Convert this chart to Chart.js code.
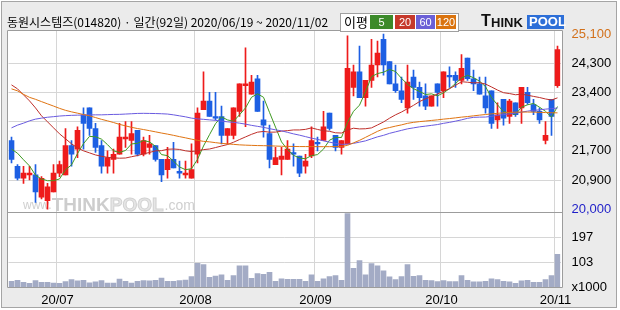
<!DOCTYPE html>
<html><head><meta charset="utf-8">
<script src="https://cdn.jsdelivr.net/npm/chart.js@4.4.0/dist/chart.umd.min.js"></script>
<style>html,body{margin:0;padding:0;background:#fff;}#wrap{width:620px;height:310px;position:relative}</style>
</head><body><div id="wrap"><canvas id="c" width="620" height="310"></canvas></div>
<script>
const dates = ['06/19','06/22','06/23','06/24','06/25','06/26','06/29','06/30',
'07/01','07/02','07/03','07/06','07/07','07/08','07/09','07/10','07/13','07/14','07/15','07/16','07/17','07/20','07/21','07/22','07/23','07/24','07/27','07/28','07/29','07/30','07/31',
'08/03','08/04','08/05','08/06','08/07','08/10','08/11','08/12','08/13','08/14','08/18','08/19','08/20','08/21','08/24','08/25','08/26','08/27','08/28','08/31',
'09/01','09/02','09/03','09/04','09/07','09/08','09/09','09/10','09/11','09/14','09/15','09/16','09/17','09/18','09/21','09/22','09/23','09/24','09/25','09/28','09/29',
'10/05','10/06','10/07','10/08','10/12','10/13','10/14','10/15','10/16','10/19','10/20','10/21','10/22','10/23','10/26','10/27','10/28','10/29','10/30',
'11/02'];
const opens = [22000,21250,20900,21000,21000,20350,20250,20500,21050,21000,21850,21750,22750,22950,22350,21850,21250,21450,21600,22050,
22000,22300,21600,21800,21850,21450,21150,21450,21100,21000,20900,21600,22900,23150,22700,22700,22150,22150,22850,23600,
23350,23800,22600,22200,21300,21450,21450,21650,21550,21250,21550,21950,22000,22800,22150,21800,21900,23550,24000,23250,
23750,24200,24950,24300,23650,23450,22950,23850,23550,23300,23000,23650,23450,23900,23900,23750,24400,23800,23650,23300,
23450,22600,23200,22700,23100,22950,23400,23050,22850,22000,23200,23600];
const highs = [22100,21300,21250,21250,21300,20950,20750,21300,21400,22350,22000,22400,22950,22950,22500,22000,21700,21750,22500,22550,
22550,22300,22100,22150,21850,21450,21800,21950,21400,21400,21900,22950,24000,23400,23400,23000,22350,22950,23650,24700,
23900,23900,23150,22450,21800,21800,22000,21900,21550,21600,22400,22100,22850,22800,22150,22000,25050,24200,24750,23750,
24950,24900,25100,24300,24200,23850,24200,24050,23700,23650,23300,23650,24000,24150,24000,24500,24400,24050,23850,23850,
23450,23100,23200,23200,23100,23550,23550,23200,22950,22550,23200,24750];
const lows = [21350,20850,20750,20850,20200,20300,20000,20500,20950,21000,21250,21500,21750,22150,21650,21050,21050,21050,21600,21800,
21600,21550,21550,21600,21400,20800,20900,21200,20900,20900,20900,21350,22900,22700,22600,21900,21900,22050,22700,22400,
23350,22850,22100,21200,21300,21000,21450,21250,20950,21050,21500,21700,22000,22300,21700,21600,21900,23300,23250,23000,
23550,23850,23900,23650,23400,23100,22800,23200,23000,22900,23000,23000,23250,23550,23550,23650,23750,23450,23350,22800,
22350,22350,22450,22500,22700,22500,23050,22750,22500,21900,22150,23550];
const closes = [21450,20900,21050,21050,20500,20900,20650,21050,21300,21850,21600,22300,22500,22350,21800,21250,21500,21600,22100,22100,
22200,21600,22000,21900,21450,21000,21450,21200,21050,21050,21150,22800,23150,22700,22650,22150,22350,22950,23650,23650,
23700,22850,22450,21450,21500,21550,21750,21600,21050,21400,22000,21900,22400,22350,21800,22000,24100,24000,23250,23750,
24200,24550,24200,23650,23450,23200,23700,23550,23250,23000,23300,23400,24000,23850,23750,24100,23800,23650,23350,22950,
22500,22750,22650,23150,22750,23550,23100,22850,22600,22150,22700,24650];
const volumes = [30,34,27,23,33,27,27,24,23,29,37,32,34,25,28,33,24,24,39,30,
24,30,33,32,34,43,30,30,33,35,48,98,93,45,50,55,34,52,89,89,
42,59,57,64,30,40,38,38,38,30,55,30,40,48,52,34,285,79,108,55,
97,89,70,47,37,48,93,49,52,34,33,29,33,29,29,52,34,28,28,30,
40,37,30,28,23,32,34,27,27,37,52,132];
const ma5 = [21750,21630,21440,21260,20990,20880,20830,20830,20880,21150,21290,21620,21910,22120,22110,22040,21880,21700,21650,21710,
21900,21920,22000,21960,21830,21590,21560,21400,21230,21150,21180,21450,21840,22170,22490,22690,22600,22560,22750,22950,
23260,23360,23260,22820,22390,21960,21740,21570,21490,21470,21560,21590,21750,22010,22090,22090,22530,22850,23030,23420,
23860,23950,23990,24070,24010,23810,23640,23510,23430,23340,23360,23300,23390,23510,23660,23820,23900,23830,23730,23570,
23250,23040,22840,22800,22760,22970,23040,23080,22970,22850,22680,22990];
const ma20 = [23620,23505,23330,23155,22950,22720,22545,22370,22195,22050,21905,21785,21700,21640,21580,21540,21510,21495,21485,21490,
21528,21563,21610,21653,21700,21705,21745,21753,21740,21700,21678,21703,21735,21753,21795,21840,21883,21950,22028,22105,
22180,22243,22265,22243,22245,22273,22288,22308,22308,22325,22368,22323,22285,22268,22225,22218,22305,22358,22338,22343,
22368,22453,22540,22650,22748,22830,22928,23025,23135,23215,23280,23355,23435,23510,23608,23713,23698,23680,23685,23645,
23560,23470,23393,23368,23333,23350,23320,23285,23253,23210,23180,23243];
const ma60 = [22369,22448,22506,22573,22623,22652,22678,22695,22713,22725,22733,22739,22742,22745,22748,22748,22754,22760,22762,22771,
22780,22789,22792,22789,22786,22780,22771,22748,22719,22690,22652,22631,22617,22602,22588,22564,22544,22529,22506,22477,
22442,22413,22384,22346,22311,22282,22238,22194,22156,22113,22069,22034,21990,21952,21917,21888,21894,21917,21952,21990,
22049,22107,22151,22209,22253,22296,22340,22369,22398,22419,22442,22465,22500,22529,22564,22602,22646,22675,22681,22684,
22704,22733,22754,22777,22797,22827,22856,22879,22893,22914,22929,22946];
const ma120 = [23505,23447,23345,23258,23200,23133,23068,23004,22937,22879,22835,22797,22757,22719,22669,22617,22573,22524,22471,22427,
22384,22349,22320,22287,22253,22218,22186,22151,22113,22078,22040,22005,21976,21961,21938,21917,21903,21888,21874,21865,
21859,21853,21850,21845,21839,21833,21830,21827,21824,21824,21824,21821,21821,21821,21824,21827,21859,21932,22005,22092,
22180,22267,22340,22378,22419,22456,22500,22529,22550,22567,22585,22602,22623,22640,22660,22681,22698,22719,22739,22757,
22777,22792,22806,22818,22827,22829,22829,22827,22821,22815,22809,22806];
const priceTicks = [20000,20850,21700,22550,23400,24250,25100];
const priceTickLabels = ['20,000','20,900','21,700','22,600','23,400','24,300','25,100'];
const volTicks = [9,103,197];
const volTickLabels = ['x1000','103','197'];
const monthTickLabels = ['20/07','20/08','20/09','20/10','20/11'];
const titleText = '동원시스템즈(014820) · 일간(92일) 2020/06/19 ~ 2020/11/02';
const legendItems = [['5','#3c8a2a'],['20','#c6392b'],['60','#6b5fd6'],['120','#da730e']];

const RED = '#ee1b1b', BLUE = '#1d5fe3', GRID = '#d6d6d6', VOLC = '#a3abc5';
const MA_COLORS = ['#3f9a22','#bf2f2a','#6a5be0','#e07412'];

const monthStart = {};
let mi = 0;
for (let i = 1; i < dates.length; i++) {
  if (dates[i].slice(0,2) !== dates[i-1].slice(0,2)) { monthStart[i] = monthTickLabels[mi++]; }
}
const bodies = dates.map((d,i) => [opens[i], closes[i]]);
const wicks = dates.map((d,i) => [lows[i], highs[i]]);
const candleColors = dates.map((d,i) => closes[i] >= opens[i] ? RED : BLUE);

const TR = 'rgba(0,0,0,0)';
const AXFONT = {family: '"Liberation Sans", sans-serif', size: 13};
const deco = {
  id: 'deco',
  beforeDraw(chart) {
    const c = chart.ctx;
    c.save();
    c.fillStyle = '#ffffff'; c.fillRect(0,0,620,310);
    c.fillStyle = '#ebebeb'; c.fillRect(1,1,616,307);
    c.strokeStyle = '#a5a5a5'; c.lineWidth = 1; c.strokeRect(1.5,1.5,615,306);
    c.fillStyle = '#ffffff'; c.fillRect(7,30,556,258);
    c.restore();
  },
  beforeDatasetsDraw(chart) {
    const c = chart.ctx;
    c.save();
    c.textBaseline = 'alphabetic';
    let x = 23;
    c.fillStyle = '#cfcfcf';
    c.font = '12px "Liberation Sans", sans-serif';
    c.fillText('www.', x, 209); x += c.measureText('www.').width;
    c.font = 'bold 19px "Liberation Sans", sans-serif';
    c.fillStyle = '#cdcdcd';
    c.fillText('THINK', x, 211); x += c.measureText('THINK').width;
    c.fillStyle = '#e6e6e6'; c.strokeStyle = '#d2d2d2'; c.lineWidth = 1;
    c.fillText('POOL', x, 211); c.strokeText('POOL', x, 211); x += c.measureText('POOL').width;
    c.fillStyle = '#cfcfcf';
    c.font = '14px "Liberation Sans", sans-serif';
    c.fillText('.com', x + 1, 210);
    c.restore();
  },
  afterDraw(chart) {
    const c = chart.ctx;
    c.save();
    c.strokeStyle = '#9c9c9c'; c.lineWidth = 1;
    c.beginPath();
    c.moveTo(7.5,30.5); c.lineTo(562.5,30.5); c.lineTo(562.5,287.5); c.lineTo(7.5,287.5); c.closePath();
    c.moveTo(7.5,212.5); c.lineTo(562.5,212.5);
    c.stroke();
    c.fillStyle = '#000'; c.textBaseline = 'middle'; c.textAlign = 'left';
    c.font = '12px "Noto Sans CJK KR", sans-serif';
    c.fillText(titleText, 7, 22, 326);
    c.fillStyle = '#fff'; c.fillRect(340, 13, 118, 18);
    c.strokeStyle = '#a0a0a0'; c.strokeRect(340.5, 13.5, 118, 18);
    c.fillStyle = '#000'; c.font = '13px "Noto Sans CJK KR", sans-serif';
    c.fillText('이평', 344, 22.5);
    const bx = [[370,23],[395,20],[416,19],[436,20]];
    c.textAlign = 'center';
    c.font = '11px "Liberation Sans", sans-serif';
    legendItems.forEach((it, k) => {
      c.fillStyle = it[1]; c.fillRect(bx[k][0], 15, bx[k][1], 14);
      c.fillStyle = '#fff'; c.fillText(it[0], bx[k][0] + bx[k][1]/2, 22.5);
    });
    c.textAlign = 'left';
    c.fillStyle = '#111';
    c.font = 'bold 16px "Liberation Sans", sans-serif';
    c.fillText('T', 481, 22);
    c.font = 'bold 13px "Liberation Sans", sans-serif';
    c.fillText('HINK', 491, 23);
    c.fillStyle = '#2d6fd8'; c.fillRect(527, 15, 37, 14);
    c.fillStyle = '#fff'; c.fillText('POOL', 529, 22.5);
    c.restore();
  }
};

const lineDs = (label, data, color) => ({type:'line', label, data, yAxisID:'y', borderColor: color, borderWidth: 1,
  pointRadius: 0, tension: 0, fill: false, order: 0});

new Chart(document.getElementById('c'), {
  type: 'bar',
  data: {
    labels: dates,
    datasets: [
      lineDs('MA120', ma120, MA_COLORS[3]),
      lineDs('MA60', ma60, MA_COLORS[2]),
      lineDs('MA20', ma20, MA_COLORS[1]),
      lineDs('MA5', ma5, MA_COLORS[0]),
      {type:'bar', label:'body', data: bodies, yAxisID:'y', backgroundColor: candleColors, barThickness: 5, minBarLength: 1, grouped: false, order: 1},
      {type:'bar', label:'wick', data: wicks, yAxisID:'y', backgroundColor: candleColors, barThickness: 1, grouped: false, order: 2},
      {type:'bar', label:'volume', data: volumes, yAxisID:'yv', backgroundColor: VOLC, barThickness: 5, grouped: false, order: 3}
    ]
  },
  options: {
    responsive: false, animation: false, devicePixelRatio: 1,
    layout: {padding: {left: 8.5, right: 0, top: 31, bottom: 0}},
    plugins: {legend: {display: false}, tooltip: {enabled: false}},
    scales: {
      x: {
        type: 'category', offset: true,
        grid: {offset: true, drawTicks: false, lineWidth: 1, color: ctx => (monthStart[ctx.index] ? GRID : TR)},
        border: {display: false},
        ticks: {autoSkip: false, maxRotation: 0, minRotation: 0, padding: 6, labelOffset: -2, color: '#000',
          font: AXFONT, callback: (v, i) => monthStart[i] || ''},
        afterFit: s => { s.height = 23; }
      },
      y: {
        position: 'right', stack: 'main', stackWeight: 181, min: 19918, max: 25190,
        afterBuildTicks: s => { s.ticks = priceTicks.map(v => ({value: v})); },
        grid: {drawTicks: false, lineWidth: 1, color: ctx => (ctx.index === 0 || ctx.index === priceTicks.length - 1) ? TR : GRID},
        border: {display: false},
        ticks: {autoSkip: false, padding: 11, font: AXFONT,
          color: ctx => ctx.index === priceTicks.length - 1 ? '#d2701a' : (ctx.index === 0 ? '#1e1ec8' : '#000'),
          callback: (v, i) => priceTickLabels[i]},
        afterFit: s => { s.width = 59.5; }
      },
      yv: {
        position: 'right', stack: 'main', stackWeight: 75, min: 9, max: 291,
        afterBuildTicks: s => { s.ticks = volTicks.map(v => ({value: v})); },
        grid: {drawTicks: false, lineWidth: 1, color: ctx => ctx.index === 0 ? TR : GRID},
        border: {display: false},
        ticks: {autoSkip: false, padding: 11, color: '#000', font: AXFONT,
          callback: (v, i) => volTickLabels[i]},
        afterFit: s => { s.width = 59.5; }
      }
    }
  },
  plugins: [deco]
});
</script>
</body></html>
